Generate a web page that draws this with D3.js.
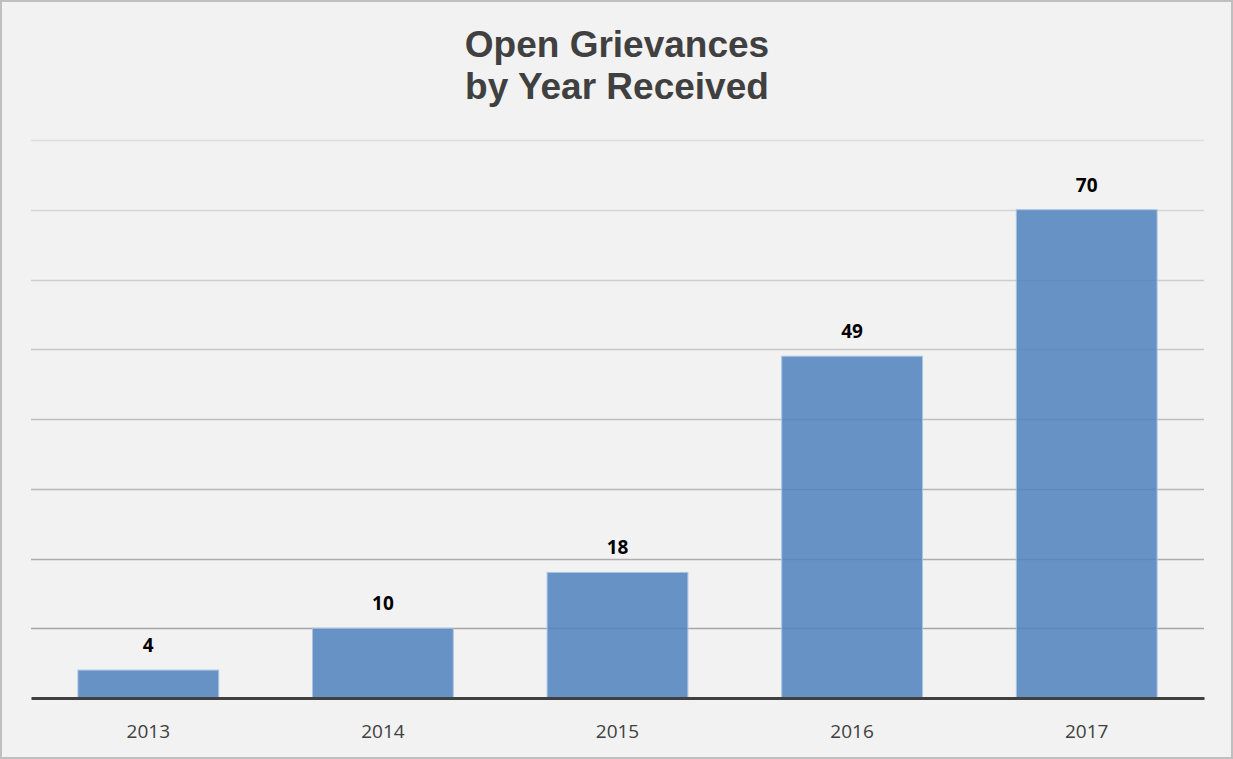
<!DOCTYPE html>
<html>
<head>
<meta charset="utf-8">
<script src="https://cdn.jsdelivr.net/npm/d3@7"></script>
<style>
  html, body { margin: 0; padding: 0; background: #fff; }
  svg { display: block; }
</style>
</head>
<body>
<div id="chart"></div>
<script>
// Data
const years = ["2013", "2014", "2015", "2016", "2017"];
const counts = [4, 10, 18, 49, 70];
const yTicks = [10, 20, 30, 40, 50, 60, 70, 80];
const titleLines = ["Open Grievances", "by Year Received"];

const width = 1233, height = 759;
const margin = { top: 140, right: 29, bottom: 61, left: 31 };
const innerW = width - margin.left - margin.right;
const innerH = height - margin.top - margin.bottom;

const svg = d3.select("#chart").append("svg")
  .attr("width", width)
  .attr("height", height);

// background + border
svg.append("rect")
  .attr("x", 1).attr("y", 1)
  .attr("width", width - 2).attr("height", height - 2)
  .attr("fill", "#f2f2f2")
  .attr("stroke", "#bfbfbf")
  .attr("stroke-width", 2);

// title
svg.append("text")
  .attr("x", 617)
  .attr("text-anchor", "middle")
  .attr("font-family", "Liberation Sans, Arial, sans-serif")
  .attr("font-weight", "bold")
  .attr("font-size", 37)
  .attr("fill", "#404040")
  .selectAll("tspan")
  .data(titleLines)
  .enter()
  .append("tspan")
  .attr("x", 617)
  .attr("y", (d, i) => 57 + i * 42)
  .text(d => d);

const g = svg.append("g")
  .attr("transform", `translate(${margin.left},${margin.top})`);

const x = d3.scaleBand()
  .domain(years)
  .range([0, innerW])
  .paddingInner(0.4)
  .paddingOuter(0.2);

const y = d3.scaleLinear()
  .domain([0, 80])
  .range([innerH, 0]);

// gridlines, getting lighter towards the top
const gridColor = d3.scaleLinear().domain([10, 80]).range(["#a6a6a6", "#dedede"]);
g.selectAll(".grid-line")
  .data(yTicks)
  .enter()
  .append("line")
  .attr("class", "grid-line")
  .attr("x1", 0)
  .attr("x2", innerW)
  .attr("y1", d => Math.round(y(d)) + 0.5)
  .attr("y2", d => Math.round(y(d)) + 0.5)
  .attr("stroke", d => gridColor(d))
  .attr("stroke-width", 1.5);

// bars
g.selectAll(".bar")
  .data(counts)
  .enter()
  .append("rect")
  .attr("class", "bar")
  .attr("x", (d, i) => x(years[i]))
  .attr("y", d => y(d))
  .attr("width", x.bandwidth())
  .attr("height", d => innerH - y(d))
  .attr("fill", "#4f81bd")
  .attr("fill-opacity", 0.85)
  .attr("stroke", "#a9c3e3")
  .attr("stroke-width", 1);

// value labels
g.selectAll(".bar-text")
  .data(counts)
  .enter()
  .append("text")
  .attr("class", "bar-text")
  .attr("x", (d, i) => x(years[i]) + x.bandwidth() / 2)
  .attr("y", d => y(d) - 18)
  .attr("text-anchor", "middle")
  .attr("font-family", "Open Sans, Noto Sans, sans-serif")
  .attr("font-weight", "bold")
  .attr("font-size", 19)
  .attr("fill", "#000")
  .text(d => d);

// x axis
const xAxis = g.append("g")
  .attr("transform", `translate(0,${innerH})`)
  .call(d3.axisBottom(x).tickSize(0).tickPadding(27));
xAxis.select(".domain")
  .attr("stroke", "#404040")
  .attr("stroke-width", 3);
xAxis.selectAll("text")
  .attr("font-family", "Open Sans, Noto Sans, sans-serif")
  .attr("font-size", 19)
  .attr("fill", "#404040");
</script>
</body>
</html>
